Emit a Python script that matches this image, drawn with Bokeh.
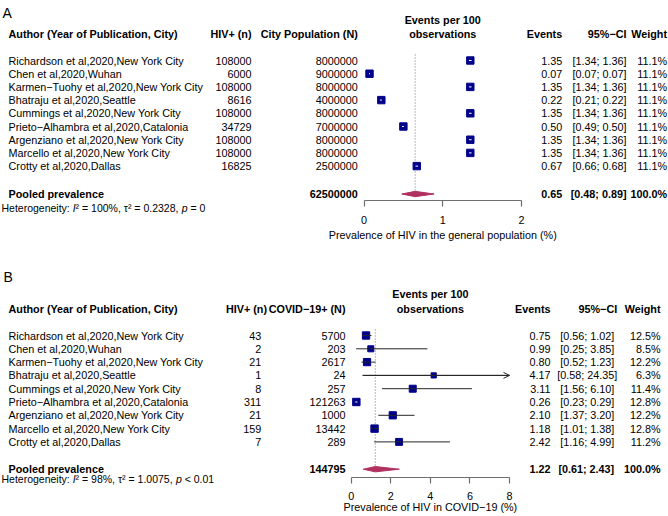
import math
from bokeh.plotting import figure
from bokeh.models import Range1d, LinearAxis, FixedTicker, ColumnDataSource, Arrow, OpenHead
from bokeh.layouts import column
from bokeh.core.properties import value
from bokeh.embed import file_html
from bokeh.resources import INLINE

FONT = "Liberation Sans"
FS = "10.8px"

# ---------------- data ----------------
studies = [
    "Richardson et al,2020,New York City",
    "Chen et al,2020,Wuhan",
    "Karmen\u2212Tuohy et al,2020,New York City",
    "Bhatraju et al,2020,Seattle",
    "Cummings et al,2020,New York City",
    "Prieto\u2212Alhambra et al,2020,Catalonia",
    "Argenziano et al,2020,New York City",
    "Marcello et al,2020,New York City",
    "Crotty et al,2020,Dallas",
]

# Panel A: HIV in the general population
a_hiv = [108000, 6000, 108000, 8616, 108000, 34729, 108000, 108000, 16825]
a_pop = [8000000, 9000000, 8000000, 4000000, 8000000, 7000000, 8000000, 8000000, 2500000]
a_est = [1.35, 0.07, 1.35, 0.22, 1.35, 0.50, 1.35, 1.35, 0.67]
a_lo = [1.34, 0.07, 1.34, 0.21, 1.34, 0.49, 1.34, 1.34, 0.66]
a_hi = [1.36, 0.07, 1.36, 0.22, 1.36, 0.50, 1.36, 1.36, 0.68]
a_wt = [11.1, 11.1, 11.1, 11.1, 11.1, 11.1, 11.1, 11.1, 11.1]
a_pooled = [0.65, 0.48, 0.89]
a_total = 62500000
a_het = ["Heterogeneity: ", "I", "\u00b2 = 100%, \u03c4\u00b2 = 0.2328, ", "p", " = 0"]
a_ticks = [0, 1, 2]

# Panel B: HIV in COVID-19
b_hiv = [43, 2, 21, 1, 8, 311, 21, 159, 7]
b_n = [5700, 203, 2617, 24, 257, 121263, 1000, 13442, 289]
b_est = [0.75, 0.99, 0.80, 4.17, 3.11, 0.26, 2.10, 1.18, 2.42]
b_lo = [0.56, 0.25, 0.52, 0.58, 1.56, 0.23, 1.37, 1.01, 1.16]
b_hi = [1.02, 3.85, 1.23, 24.35, 6.10, 0.29, 3.20, 1.38, 4.99]
b_wt = [12.5, 8.5, 12.2, 6.3, 11.4, 12.8, 12.2, 12.8, 11.2]
b_pooled = [1.22, 0.61, 2.43]
b_total = 144795
b_het = ["Heterogeneity: ", "I", "\u00b2 = 98%, \u03c4\u00b2 = 1.0075, ", "p", " < 0.01"]
b_ticks = [0, 2, 4, 6, 8]

pooled_weight = 100.0

SQ_COL = "#00008B"
DIA_COL = "#B03060"
AX_COL = "#6e6e6e"

# approximate Arial/Liberation advance widths (per em) for inline layout of mixed styles
ADV = {'H': .722, 'e': .556, 't': .278, 'r': .333, 'o': .556, 'g': .556, 'n': .556, 'i': .222,
       'y': .5, ':': .278, ' ': .278, 'I': .278, '\u00b2': .333, '=': .584, '%': .889, ',': .278,
       '\u03c4': .44, '.': .278, 'p': .556, '<': .584}


def tw(s, fs):
    return sum(ADV.get(c, .556) for c in s) * fs


W, H = 668, 258


def panel(tag, n_hdr, hiv, n, est, lo, hi, wt, pooled, total, het, ticks, axlab, g):
    rows = list(range(1, len(studies) + 1))
    p = figure(width=W, height=H, x_range=Range1d(0, W),
               y_range=Range1d(start=g["r_bot"], end=g["r_top"]),
               x_axis_type=None, y_axis_type=None, output_backend="svg",
               toolbar_location=None, min_border=0, outline_line_color=None)
    p.background_fill_color = "white"
    ppu = (g["px1"] - g["px0"]) / ticks[-1]
    p.extra_x_ranges = {"f": Range1d(-g["px0"] / ppu, (W - g["px0"]) / ppu)}
    mid = (ticks[0] + ticks[-1]) / 2

    base = dict(text_font=value(FONT), text_baseline="middle", text_color="black")

    def txt(x, y, t, align="left", bold=False, rng="default", size=FS, italic=False):
        kw = dict(base)
        kw["text_font_size"] = size
        kw["text_font_style"] = "bold" if bold else ("italic" if italic else "normal")
        src = ColumnDataSource(dict(x=x, y=y, t=t))
        p.text(x="x", y="y", text="t", source=src, text_align=align,
               x_range_name=rng, **kw)

    # tag
    txt([g["tag_x"]], [g["tag_row"]], [tag], size="14px")
    # headers
    L = g["left"]
    txt([L], [-1], ["Author (Year of Publication, City)"], bold=True)
    txt([g["hiv_hdr"]], [-1], ["HIV+ (n)"], align="right", bold=True)
    txt([g["n_r"]], [-1], [n_hdr], align="right", bold=True)
    txt([mid, mid], [g["ev_row"], -1], ["Events per 100", "observations"], align="center",
        bold=True, rng="f")
    txt([g["ev_r"], g["ci_r"], g["wt_r"]], [-1, -1, -1], ["Events", "95%\u2212CI", "Weight"],
        align="right", bold=True)

    # study columns
    k = len(f"{max(hi):.2f}")
    ci = [f"[{a:.2f}; {b:>{k}.2f}]" for a, b in zip(lo, hi)]
    txt([L] * len(rows), rows, studies)
    txt([g["hiv_r"]] * len(rows), rows, [str(v) for v in hiv], align="right")
    txt([g["n_r"]] * len(rows), rows, [str(v) for v in n], align="right")
    txt([g["ev_r"]] * len(rows), rows, [f"{v:.2f}" for v in est], align="right")
    txt([g["ci_r"]] * len(rows), rows, ci, align="right")
    txt([g["wt_r"]] * len(rows), rows, [f"{v:.1f}%" for v in wt], align="right")

    # pooled row
    pr = g["pooled_row"]
    pci = f"[{pooled[1]:.2f}; {pooled[2]:>{k}.2f}]"
    txt([L], [pr], ["Pooled prevalence"], bold=True)
    txt([g["n_r"]], [pr], [str(total)], align="right", bold=True)
    txt([g["ev_r"], g["ci_r"], g["wt_r"]], [pr, pr, pr],
        [f"{pooled[0]:.2f}", pci, f"{pooled_weight:.1f}%"], align="right", bold=True)
    # heterogeneity (mixed italic); svg drops leading spaces, so advance past them
    fs = 10.5
    x = g["het_x"]
    for i, piece in enumerate(het):
        stripped = piece.lstrip(" ")
        x += tw(piece[:len(piece) - len(stripped)], fs)
        txt([x], [g["het_row"]], [stripped], size=f"{fs}px", italic=(i % 2 == 1))
        x += tw(stripped, fs)

    # reference (pooled) line
    p.segment(x0=[pooled[0]], x1=[pooled[0]], y0=[0.55], y1=[pr], x_range_name="f",
              line_color="#8c8c8c", line_width=1.2, line_dash="1 2")

    # squares
    smax = 7.4
    sizes = [smax * math.sqrt(w / max(wt)) for w in wt]
    p.scatter(x=est, y=rows, marker="square", size=sizes, fill_color=SQ_COL,
              line_color=SQ_COL, x_range_name="f")

    # CI lines (white inside box, dark otherwise)
    hi_c = [min(h, ticks[-1]) for h in hi]
    inside = [(h - l) * ppu < s * 0.9 for l, h, s in zip(lo, hi, sizes)]
    dark = dict(x0=[l for l, ins in zip(lo, inside) if not ins],
                x1=[h for h, ins in zip(hi_c, inside) if not ins],
                y=[r for r, ins in zip(rows, inside) if not ins])
    p.segment(x0="x0", x1="x1", y0="y", y1="y", source=ColumnDataSource(dark),
              x_range_name="f", line_color="#262626", line_width=1)
    white = dict(x0=[l for l, ins in zip(lo, inside) if ins],
                 x1=[h for h, ins in zip(hi_c, inside) if ins],
                 y=[r for r, ins in zip(rows, inside) if ins])
    p.segment(x0="x0", x1="x1", y0="y", y1="y", source=ColumnDataSource(white),
              x_range_name="f", line_color="white", line_width=1, line_cap="square")
    # arrows for truncated CIs
    over = dict(x0=[l for l, h in zip(lo, hi) if h > ticks[-1]],
                x1=[ticks[-1] for h in hi if h > ticks[-1]],
                y=[r for r, h in zip(rows, hi) if h > ticks[-1]])
    if over["y"]:
        p.add_layout(Arrow(end=OpenHead(size=6, line_color="#262626", line_width=1),
                           x_start="x0", y_start="y", x_end="x1", y_end="y",
                           source=ColumnDataSource(over), x_range_name="f",
                           line_color="#262626", line_width=1))

    # pooled diamond
    h = g["dia_h"]
    p.patch(x=[pooled[1], pooled[0], pooled[2], pooled[0]], y=[pr, pr - h, pr, pr + h],
            x_range_name="f", fill_color=DIA_COL, line_color=DIA_COL)

    # axis
    ax = LinearAxis(x_range_name="f", ticker=FixedTicker(ticks=ticks),
                    bounds=(ticks[0], ticks[-1]), fixed_location=g["axis_row"])
    ax.axis_line_color = AX_COL
    ax.axis_line_width = 1.2
    ax.major_tick_line_color = AX_COL
    ax.major_tick_line_width = 1.2
    ax.major_tick_out = 6
    ax.major_tick_in = 0
    ax.minor_tick_line_color = None
    ax.major_label_text_font = FONT
    ax.major_label_text_font_size = FS
    ax.major_label_text_color = "black"
    ax.major_label_standoff = g["standoff"]
    p.add_layout(ax, "below")
    txt([mid], [g["axlab_row"]], [axlab], align="center", rng="f")
    return p


# panel geometry (pixel positions within each panel; rows are study-row units)
gA = dict(r_top=1 + (0 - 60) / 13.2, r_bot=1 + (258 - 60) / 13.2,
          px0=363.5, px1=521.0, tag_x=2, tag_row=1 + (12 - 60) / 13.2, ev_row=-2.05,
          left=8, het_x=1,
          hiv_hdr=251, hiv_r=251, n_r=357.3, ev_r=561.7, ci_r=626, wt_r=666.5,
          pooled_row=1 + (193.5 - 60) / 13.2, het_row=1 + (207.3 - 60) / 13.2,
          axis_row=1 + (200 - 60) / 13.2, axlab_row=1 + (234.3 - 60) / 13.2,
          dia_h=0.2, standoff=9)
gB = dict(r_top=1 + (258 - 335) / 13.3, r_bot=1 + (516 - 335) / 13.3,
          px0=350.7, px1=509.0, tag_x=3, tag_row=1 + (276 - 335) / 13.3, ev_row=-2.13,
          left=8, het_x=1,
          hiv_hdr=266.5, hiv_r=260.7, n_r=345, ev_r=550, ci_r=616.7, wt_r=660,
          pooled_row=1 + (468.7 - 335) / 13.3, het_row=1 + (478.3 - 335) / 13.3,
          axis_row=1 + (477.3 - 335) / 13.3, axlab_row=1 + (506.5 - 335) / 13.3,
          dia_h=0.2, standoff=8)

pA = panel("A", "City Population (N)", a_hiv, a_pop, a_est, a_lo, a_hi, a_wt, a_pooled,
           a_total, a_het, a_ticks, "Prevalence of HIV in the general population (%)", gA)
pB = panel("B", "COVID\u221219+ (N)", b_hiv, b_n, b_est, b_lo, b_hi, b_wt, b_pooled,
           b_total, b_het, b_ticks, "Prevalence of HIV in COVID\u221219 (%)", gB)

layout = column(pA, pB, spacing=0)
open("out.html", "w").write(file_html(layout, INLINE))
